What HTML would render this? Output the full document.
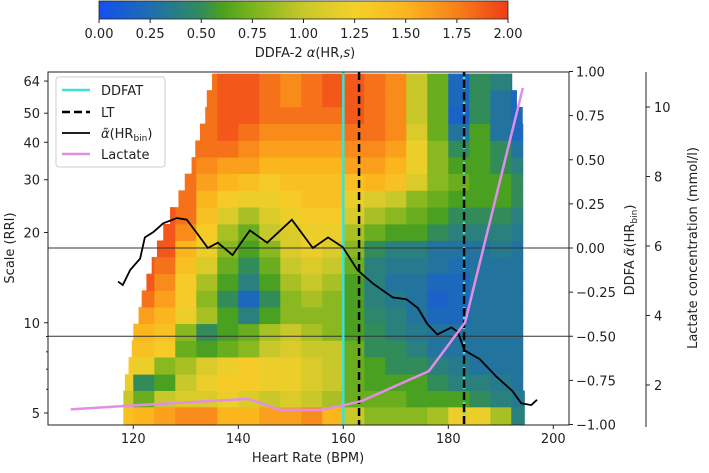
<!DOCTYPE html>
<html><head><meta charset="utf-8">
<style>
html,body{margin:0;padding:0;background:#fff;}
svg text{font-family:"DejaVu Sans","Liberation Sans",sans-serif;fill:#222;}
</style></head>
<body>
<svg id="chart" width="709" height="468" viewBox="0 0 709 468" xmlns="http://www.w3.org/2000/svg">
<defs>
<linearGradient id="cbgrad" x1="0" x2="1" y1="0" y2="0">
<stop offset="0" stop-color="#1450f0"/><stop offset="0.125" stop-color="#1e6eb0"/>
<stop offset="0.25" stop-color="#328c5a"/><stop offset="0.3" stop-color="#4aa020"/>
<stop offset="0.375" stop-color="#7ab41e"/><stop offset="0.5" stop-color="#c8c82a"/>
<stop offset="0.625" stop-color="#f5d02a"/><stop offset="0.75" stop-color="#fbb61e"/>
<stop offset="0.875" stop-color="#f8801a"/><stop offset="1" stop-color="#f03c18"/>
</linearGradient>
<clipPath id="plotclip"><rect x="48" y="72" width="521" height="353"/></clipPath>
</defs>
<g id="colorbar">
<rect x="99" y="1" width="409" height="18" fill="url(#cbgrad)" stroke="#222" stroke-width="0.8"/>
</g>
<g id="heat" clip-path="url(#plotclip)"></g>
<g id="overlay"></g>
<g id="axes"></g>
</svg>
<script>
// ---- data ----
const hrBins = [118,122,126,130,134,138,142,146,150,154,158,162,166,170,174,178,182,186,190,194];
const scales = [4.9,5.6,6.3,7.2,8.2,9.3,10.6,12,13.7,15.5,17.7,20,22.8,25.9,29.5,33.5,38,43.3,49.2,56,63.6];
const rowStart = [118.1,118.1,118.4,119.1,119.7,120,121,121.6,122.5,123.5,124.5,125.7,127,128.6,129.8,131.1,131.8,132.7,133.7,134,135];
const rowEnd = [194.5,194.5,194.2,194.2,194.2,194.2,194.2,194.2,194.2,194.2,194.2,194.2,194.2,194.2,194.2,194.2,194.2,194.2,194.1,193,192.1];
const r0=[1.4,1.5,1.6,1.7,1.7,1.5,1.5,1.6,1.6,1.7,1.5,1.0,0.8,0.8,0.8,0.9,1.2,1.2,0.9,0.4];
const r1=[1.0,0.7,1.0,1.1,1.1,1.2,1.1,1.0,1.1,1.0,0.9,0.7,0.7,0.7,0.6,0.6,0.6,0.5,0.4,0.35];
const r2=[1.2,0.5,0.6,1.0,1.2,1.3,1.3,1.2,1.2,1.1,1.0,0.7,0.6,0.6,0.6,0.5,0.4,0.4,0.35,0.3];
const r3=[1.3,1.2,0.8,0.9,1.1,1.2,1.3,1.2,1.2,1.1,1.0,0.7,0.6,0.5,0.5,0.4,0.35,0.3,0.3,0.3];
const r4=[1.4,1.4,1.3,0.7,0.6,0.7,0.8,1.0,1.1,1.0,1.0,0.7,0.5,0.5,0.4,0.3,0.3,0.3,0.3,0.3];
const r5=[1.5,1.5,1.4,0.8,0.5,0.6,0.7,0.9,1.0,0.9,0.8,0.6,0.5,0.4,0.35,0.3,0.3,0.3,0.3,0.3];
const r6=[1.6,1.6,1.5,1.2,0.9,0.6,0.4,0.6,0.8,0.8,0.8,0.6,0.45,0.4,0.3,0.2,0.2,0.3,0.3,0.3];
const r7=[1.8,1.8,1.6,1.3,0.8,0.5,0.2,0.5,0.8,0.9,0.8,0.6,0.4,0.35,0.3,0.15,0.2,0.3,0.3,0.3];
const r8=[1.8,1.9,1.7,1.3,0.9,0.6,0.4,0.6,0.9,1.0,0.9,0.6,0.4,0.3,0.3,0.2,0.2,0.3,0.3,0.3];
const r9=[1.9,1.9,1.8,1.4,1.1,0.7,0.5,0.7,1.0,1.1,1.0,0.7,0.4,0.35,0.35,0.3,0.25,0.3,0.3,0.3];
const r10=[1.9,1.9,1.9,1.5,1.2,0.8,0.6,0.8,1.1,1.2,1.1,0.8,0.5,0.4,0.4,0.3,0.3,0.3,0.35,0.3];
const r11=[1.9,1.9,1.9,1.7,1.3,0.9,0.7,1.0,1.1,1.2,1.2,0.9,0.7,0.6,0.6,0.5,0.4,0.4,0.4,0.35];
const r12=[2,2,1.9,1.8,1.4,1.1,0.9,1.1,1.2,1.3,1.3,1.1,0.9,0.8,0.7,0.6,0.5,0.5,0.5,0.4];
const r13=[2,2,1.9,1.8,1.5,1.3,1.2,1.2,1.3,1.4,1.4,1.2,1.1,1.0,0.8,0.7,0.6,0.6,0.6,0.5];
const r14=[2,2,1.9,1.8,1.6,1.5,1.4,1.3,1.4,1.4,1.4,1.4,1.5,1.4,1.1,0.8,0.7,0.6,0.6,0.5];
const r15=[2,2,1.9,1.8,1.7,1.6,1.6,1.5,1.5,1.5,1.5,1.6,1.6,1.5,1.2,0.8,0.6,0.6,0.5,0.4];
const r16=[2,2,1.9,1.8,1.8,1.8,1.7,1.6,1.6,1.6,1.6,1.7,1.7,1.6,1.2,0.8,0.5,0.6,0.5,0.3];
const r17=[2,2,2,1.9,1.8,1.9,1.8,1.7,1.7,1.7,1.7,1.8,1.8,1.7,1.1,0.7,0.3,0.6,0.3,0.2];
const r18=[2,2,2,1.9,1.8,1.9,1.9,1.8,1.8,1.8,1.8,1.9,1.8,1.7,1.0,0.7,0.15,0.5,0.3,0.2];
const r19=[2,2,2,1.9,1.8,1.9,1.9,1.8,1.7,1.8,1.9,1.9,1.8,1.7,1.0,0.7,0.2,0.5,0.3,0.2];
const r20=[2,2,2,1.9,1.8,1.9,1.9,1.8,1.7,1.8,1.9,1.9,1.8,1.7,1.0,0.7,0.2,0.5,0.4,0.2];
const heatRows=[r0,r1,r2,r3,r4,r5,r6,r7,r8,r9,r10,r11,r12,r13,r14,r15,r16,r17,r18,r19,r20];
const alphaHR=[117.1,118,119.4,121.3,122.2,123.8,125.7,128.3,130.2,132.1,134.2,136.1,138.9,142.2,145.5,150.2,154.2,157.1,159.9,162.7,165.6,169.4,172,174.2,176,177.9,180.6,181.8,183.1,186,189.2,192.2,193.9,195.8,196.9];
const alphaVal=[-0.19,-0.21,-0.125,-0.06,0.06,0.09,0.14,0.17,0.16,0.085,0,0.03,-0.04,0.1,0.03,0.16,0,0.06,0.005,-0.125,-0.2,-0.28,-0.29,-0.34,-0.43,-0.49,-0.45,-0.475,-0.58,-0.63,-0.73,-0.81,-0.88,-0.89,-0.86];
const lacHR=[108.1,118.6,141.9,148,155.7,161,163.5,176.3,183.2,194.2];
const lacVal=[1.3,1.4,1.6,1.28,1.28,1.45,1.54,2.4,3.8,10.55];
const ddfatHR=160, ltHR=163, lt2HR=183;
const xTicks=[120,140,160,180,200];
const yTicks=[5,10,20,30,40,50,64];
const yMinor=[6,7,8,9];
const rTicks=[1,0.75,0.5,0.25,0,-0.25,-0.5,-0.75,-1];
const lacTicks=[2,4,6,8,10];
const cbTicks=[0,0.25,0.5,0.75,1,1.25,1.5,1.75,2];
const hLines=[0,-0.5];

// ---- scales ----
const X=hr=>133.3+(hr-120)*5.25;
const Y=s=>413-130.2*Math.log(s/5);
const YR=v=>248-v*176.5;
const YL=v=>385-(v-2)*34.75;
const CB=v=>99+v/2*409;
const stops=[[0,[20,80,240]],[0.25,[30,110,176]],[0.5,[50,140,90]],[0.6,[74,160,32]],[0.75,[122,180,30]],[1,[200,200,42]],[1.25,[245,208,42]],[1.5,[251,182,30]],[1.75,[248,128,26]],[2,[240,60,24]]];
function cmap(v){v=Math.max(0,Math.min(2,v));for(let i=1;i<stops.length;i++){if(v<=stops[i][0]){const a=stops[i-1],b=stops[i],t=(v-a[0])/(b[0]-a[0]);const c=a[1].map((q,k)=>Math.round(q+(b[1][k]-q)*t));return `rgb(${c[0]},${c[1]},${c[2]})`;}}return 'rgb(240,60,24)';}
const NS='http://www.w3.org/2000/svg';
function mk(tag,attrs,parent){const e=document.createElementNS(NS,tag);for(const k in attrs)e.setAttribute(k,attrs[k]);parent.appendChild(e);return e;}
const heat=document.getElementById('heat'),ov=document.getElementById('overlay'),ax=document.getElementById('axes');

// heatmap
heatRows.forEach((row,ri)=>{
  const s=scales[ri];
  const sLo=ri>0?Math.sqrt(scales[ri-1]*s):s*s/Math.sqrt(scales[ri+1]*s);
  const sHi=ri<scales.length-1?Math.sqrt(scales[ri+1]*s):s*s/Math.sqrt(scales[ri-1]*s);
  row.forEach((v,ci)=>{
    const a=Math.max(hrBins[ci]-2,rowStart[ri]),b=Math.min(hrBins[ci]+2,rowEnd[ri]);
    if(b<=a)return;
    const r=mk('rect',{x:X(a),y:Y(sHi),width:X(b)-X(a)+0.4,height:Y(sLo)-Y(sHi)+0.4,fill:cmap(v)},heat);
    
    
  });
});
hLines.forEach(v=>{const l=mk('line',{x1:48,x2:569,y1:YR(v),y2:YR(v),stroke:'#333','stroke-width':0.9},ov);

});
let e=mk('line',{x1:X(ddfatHR),x2:X(ddfatHR),y1:72,y2:425,stroke:'#40e0d0','stroke-width':2.5},ov);


e=mk('line',{x1:X(ltHR),x2:X(ltHR),y1:72,y2:425,stroke:'#000','stroke-width':2.5,'stroke-dasharray':'8,4'},ov);


e=mk('line',{x1:X(lt2HR),x2:X(lt2HR),y1:72,y2:425,stroke:'#40e0d0','stroke-width':2.5,'stroke-dasharray':'2,3'},ov);


e=mk('line',{x1:X(lt2HR),x2:X(lt2HR),y1:72,y2:425,stroke:'#000','stroke-width':2.5,'stroke-dasharray':'8,4','stroke-dashoffset':4},ov);


e=mk('polyline',{points:alphaHR.map((h,i)=>X(h)+','+YR(alphaVal[i])).join(' '),fill:'none',stroke:'#000','stroke-width':1.8},ov);


e=mk('polyline',{points:lacHR.map((h,i)=>X(h)+','+YL(lacVal[i])).join(' '),fill:'none',stroke:'#e28ee6','stroke-width':2.5},ov);



mk('rect',{x:48,y:72,width:521,height:353,fill:'none',stroke:'#222','stroke-width':1},ax);
mk('line',{x1:646,x2:646,y1:72,y2:427,stroke:'#222','stroke-width':1},ax);
function txt(str,x,y,anchor,size,parent,name){const t=mk('text',{x:x,y:y,'text-anchor':anchor,'font-size':size},parent);t.textContent=str;

return t;}
xTicks.forEach(v=>{mk('line',{x1:X(v),x2:X(v),y1:425,y2:429,stroke:'#222'},ax);txt(String(v),X(v),443,'middle',13,ax,'x-tick-label');});
yTicks.forEach(v=>{mk('line',{x1:44,x2:48,y1:Y(v),y2:Y(v),stroke:'#222'},ax);txt(String(v),40,Y(v)+5,'end',13,ax,'y-tick-label');});
yMinor.forEach(v=>{mk('line',{x1:46,x2:48,y1:Y(v),y2:Y(v),stroke:'#222'},ax);});
rTicks.forEach(v=>{mk('line',{x1:569,x2:573,y1:YR(v),y2:YR(v),stroke:'#222'},ax);txt((v<0?'\u2212':'')+Math.abs(v).toFixed(2),576,YR(v)+5,'start',13,ax,'right-tick-label');});
lacTicks.forEach(v=>{mk('line',{x1:646,x2:650,y1:YL(v),y2:YL(v),stroke:'#222'},ax);txt(String(v),654,YL(v)+5,'start',13,ax,'lactate-tick-label');});
cbTicks.forEach(v=>{mk('line',{x1:CB(v),x2:CB(v),y1:19,y2:23,stroke:'#222'},ax);txt(v.toFixed(2),CB(v),38,'middle',13,ax,'colorbar-tick-label');});
</script>
<svg width="709" height="468" style="position:absolute;left:0;top:0">
<text x="305" y="57" text-anchor="middle" font-size="13" font-family="DejaVu Sans, Liberation Sans, sans-serif" fill="#222">DDFA-2 <tspan font-style="italic">α</tspan>(HR,<tspan font-style="italic">s</tspan>)</text>
<text x="308" y="462" text-anchor="middle" font-size="13" font-family="DejaVu Sans, Liberation Sans, sans-serif" fill="#222">Heart Rate (BPM)</text>
<text transform="translate(14,248) rotate(-90)" text-anchor="middle" font-size="13" font-family="DejaVu Sans, Liberation Sans, sans-serif" fill="#222">Scale (RRI)</text>
<text transform="translate(634,250) rotate(-90)" text-anchor="middle" font-size="13" font-family="DejaVu Sans, Liberation Sans, sans-serif" fill="#222">DDFA <tspan font-style="italic">α̃</tspan>(HR<tspan font-size="9" dy="3">bin</tspan><tspan dy="-3">)</tspan></text>
<text transform="translate(697,248) rotate(-90)" text-anchor="middle" font-size="13" font-family="DejaVu Sans, Liberation Sans, sans-serif" fill="#222">Lactate concentration (mmol/l)</text>
<g font-family="DejaVu Sans, Liberation Sans, sans-serif" font-size="13" fill="#222">
<rect x="56" y="77" width="109" height="90" rx="3" fill="#fff" fill-opacity="0.85" stroke="#ccc"/>
<line x1="62" x2="90" y1="90" y2="90" stroke="#40e0d0" stroke-width="2.5"/>
<text x="101" y="95">DDFAT</text>
<line x1="62" x2="90" y1="112" y2="112" stroke="#000" stroke-width="2.5" stroke-dasharray="8,4"/>
<text x="101" y="117">LT</text>
<line x1="62" x2="90" y1="133" y2="133" stroke="#000" stroke-width="1.8"/>
<text x="101" y="138"><tspan font-style="italic">α̃</tspan>(HR<tspan font-size="9" dy="3">bin</tspan><tspan dy="-3">)</tspan></text>
<line x1="62" x2="90" y1="154" y2="154" stroke="#e28ee6" stroke-width="2.5"/>
<text x="101" y="159">Lactate</text>
</g>
</svg>
</body></html>
